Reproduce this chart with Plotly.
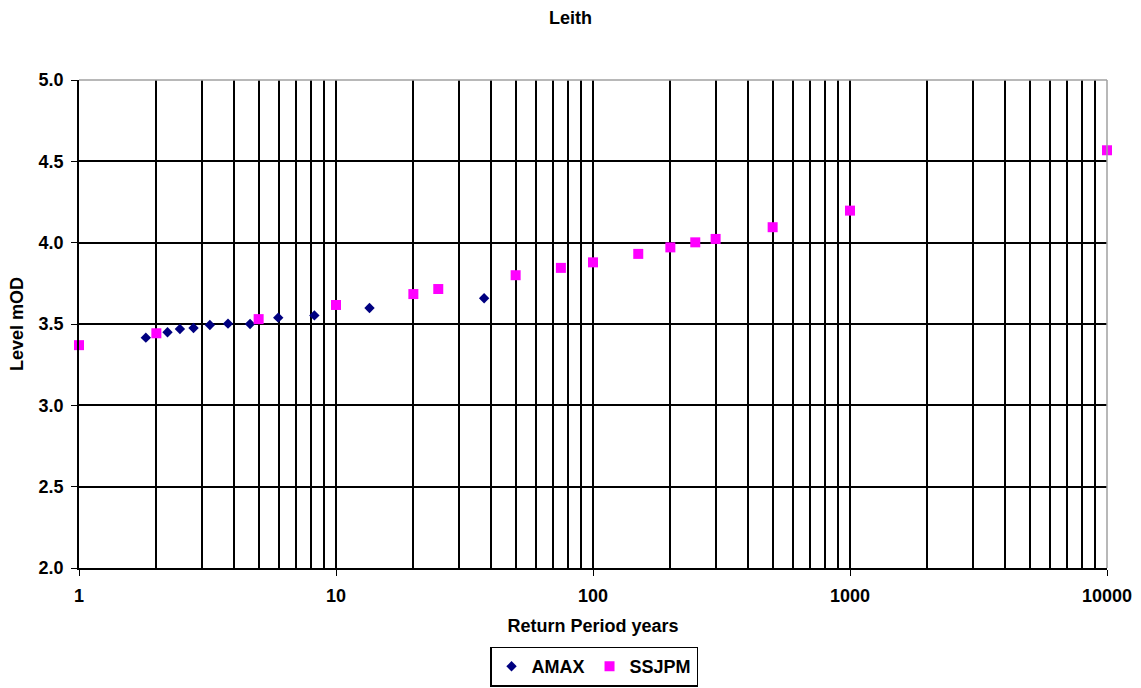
import plotly.graph_objects as go

amax_rp = [1.82, 2.21, 2.47, 2.79, 3.23, 3.80, 4.63, 5.96, 8.24, 13.5, 37.7]
amax_lv = [3.416, 3.449, 3.469, 3.475, 3.494, 3.502, 3.50, 3.539, 3.553, 3.598, 3.658]

ssjpm_rp = [1, 2, 5, 10, 20, 25, 50, 75, 100, 150, 200, 250, 300, 500, 1000, 10000]
ssjpm_lv = [3.37, 3.443, 3.53, 3.617, 3.684, 3.715, 3.80, 3.845, 3.879, 3.931, 3.971,
            4.002, 4.023, 4.095, 4.197, 4.568]

x_major = [1, 10, 100, 1000, 10000]
x_major_labels = ["1", "10", "100", "1000", "10000"]
x_minor = [m * 10 ** d for d in range(4) for m in range(2, 10)]
y_ticks = [2.0, 2.5, 3.0, 3.5, 4.0, 4.5, 5.0]

FONT = "Liberation Sans, Arial, sans-serif"
FS = 18

fig = go.Figure()
fig.add_trace(go.Scatter(
    x=amax_rp, y=amax_lv, mode="markers", name="<b>AMAX</b>",
    marker=dict(symbol="diamond", color="#000080", size=8),
    cliponaxis=False,
))
fig.add_trace(go.Scatter(
    x=ssjpm_rp, y=ssjpm_lv, mode="markers", name="<b>SSJPM</b>",
    marker=dict(symbol="square", color="#FF00FF", size=10),
    cliponaxis=False,
))

fig.update_layout(
    width=1141, height=688,
    margin=dict(l=79, r=34, t=80, b=120, autoexpand=False),
    paper_bgcolor="white", plot_bgcolor="white",
    font=dict(family=FONT, size=FS, color="black"),
    title=dict(text="<b>Leith</b>", x=0.5, xanchor="center", y=0.974, yanchor="middle",
               font=dict(size=FS, family=FONT)),
    showlegend=True,
    legend=dict(orientation="h", x=0.501, xanchor="center",
                yref="container", y=0.002, yanchor="bottom",
                bordercolor="black", borderwidth=1.5, font=dict(size=FS, family=FONT),
                itemwidth=30, tracegroupgap=0),
)
fig.update_xaxes(
    type="log", range=[0, 4], automargin=False,
    tickvals=x_major, ticktext=["<b>%s</b>" % t for t in x_major_labels],
    showgrid=True, gridcolor="black", gridwidth=1.5,
    showline=True, linecolor="black", linewidth=1.5,
    ticks="outside", ticklen=6, tickcolor="black", ticklabelstandoff=5,
    minor=dict(tickvals=x_minor, showgrid=True, gridcolor="black", gridwidth=1.5, ticks=""),
    title=dict(text="<b>Return Period years</b>", standoff=14, font=dict(size=FS)),
    zeroline=False,
)
fig.update_yaxes(
    range=[2, 5], automargin=False,
    tickvals=y_ticks, ticktext=["<b>%.1f</b>" % v for v in y_ticks],
    showgrid=True, gridcolor="black", gridwidth=1.5,
    showline=True, linecolor="black", linewidth=1.5,
    ticks="outside", ticklen=6, tickcolor="black", ticklabelstandoff=4,
    title=dict(text="<b>Level mOD</b>", standoff=10, font=dict(size=FS)),
    zeroline=False,
)
# grey plot-area border on top and right
fig.add_shape(type="line", xref="paper", yref="paper", x0=0, x1=1, y0=1, y1=1,
              line=dict(color="#A0A0A0", width=1.5))
fig.add_shape(type="line", xref="paper", yref="paper", x0=1, x1=1, y0=0, y1=1,
              line=dict(color="#A0A0A0", width=1.5))

fig.write_html("out.html")
